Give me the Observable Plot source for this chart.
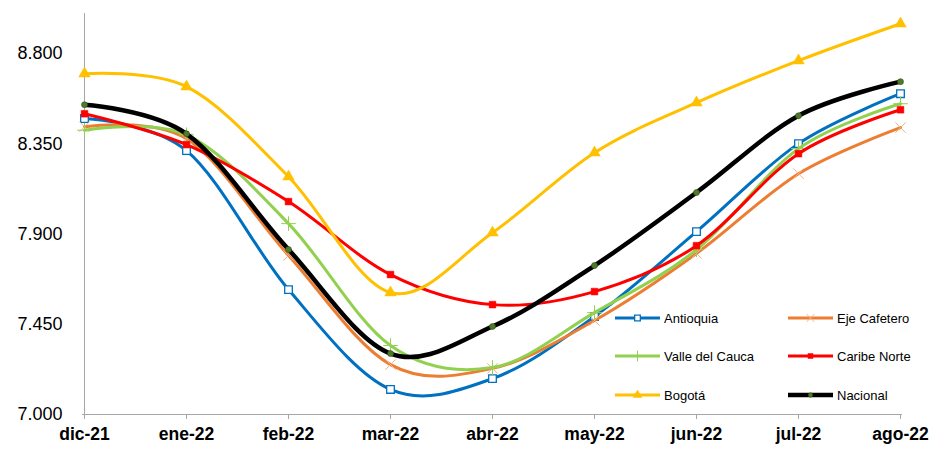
<!DOCTYPE html>
<html><head><meta charset="utf-8">
<script src="https://cdn.jsdelivr.net/npm/d3@7"></script>
<script src="https://cdn.jsdelivr.net/npm/@observablehq/plot@0.6"></script>
<style>
body{margin:0;background:#fff;font-family:"Liberation Sans",Arial,sans-serif}
#chart{position:relative;width:942px;height:455px}
</style>
</head><body><div id="chart"></div>
<script>
const months = ["dic-21","ene-22","feb-22","mar-22","abr-22","may-22","jun-22","jul-22","ago-22"];
const antioquia   = [8476, 8316, 7623, 7125, 7179, 7489, 7912, 8351, 8600];
const ejeCafetero = [8435, 8375, 7793, 7249, 7230, 7469, 7803, 8201, 8431];
const valle       = [8418, 8395, 7952, 7344, 7234, 7508, 7822, 8326, 8550];
const caribe      = [8500, 8346, 8062, 7698, 7548, 7613, 7842, 8301, 8520];
const bogota      = [8700, 8635, 8186, 7608, 7907, 8306, 8555, 8765, 8949];
const nacional    = [8545, 8400, 7823, 7304, 7439, 7743, 8107, 8490, 8660];
const yTicks = [7000, 7450, 7900, 8350, 8800];
const yDomain = [7000, 9000];

const series = [
  {name:"Antioquia", values:antioquia, color:"#0070C0", w:3, symbol:"square", fill:"#fff", stroke:"#0070C0", r:4.3, sw:1.3},
  {name:"Eje Cafetero", values:ejeCafetero, color:"#ED7D31", w:3, symbol:"times", fill:"none", stroke:"#F4B183", r:4.8, sw:1},
  {name:"Valle del Cauca", values:valle, color:"#92D050", w:3, symbol:"plus", fill:"none", stroke:"#92D050", r:4.8, sw:1},
  {name:"Caribe Norte", values:caribe, color:"#FF0000", w:3, symbol:"square", fill:"#FF0000", stroke:"#FF0000", r:3.8, sw:0.5},
  {name:"Bogotá", values:bogota, color:"#FFC000", w:3, symbol:"triangle", fill:"#FFC000", stroke:"#FFC000", r:4.3, sw:0.5},
  {name:"Nacional", values:nacional, color:"#000000", w:4.5, symbol:"circle", fill:"#4F7A28", stroke:"#2f4f18", r:3, sw:0.6}
];

const rows = series.map(s => months.map((m,i) => ({serie:s.name, month:m, value:s.values[i]})));

const loc = d3.formatLocale({decimal:",", thousands:".", grouping:[3], currency:["$",""]});
const fmt = loc.format(",d");

const marks = [
  Plot.ruleY([yDomain[0]], {stroke:"#a6a6a6", strokeWidth:1}),
  Plot.ruleX([months[0]], {stroke:"#a6a6a6", strokeWidth:1})
];
series.forEach((s, k) => {
  marks.push(Plot.line(rows[k], {x:"month", y:"value", stroke:s.color, strokeWidth:s.w, curve:"cardinal"}));
  marks.push(Plot.dot(rows[k], {x:"month", y:"value", symbol:()=>s.symbol, r:s.r, fill:s.fill, stroke:s.stroke, strokeWidth:s.sw}));
});

const chart = Plot.plot({
  width: 942,
  height: 455,
  marginLeft: 82,
  marginRight: 40,
  marginTop: 13,
  marginBottom: 41,
  style: {fontFamily:'"Liberation Sans", Arial, sans-serif', background:"#fff", overflow:"visible"},
  x: {type:"point", domain:months, padding:0, label:null, tickSize:5, tickPadding:8},
  y: {domain:yDomain, ticks:yTicks, tickFormat:fmt, tickSize:0, tickPadding:20, label:null},
  symbol: {type:"identity"},
  marks
});

const svg = d3.select(chart);
svg.selectAll('[aria-label^="x-axis"] text').attr("font-size", "17.5px").attr("font-weight", "bold").attr("fill", "#000");
svg.selectAll('[aria-label^="x-axis"] line, [aria-label^="x-axis"] path').attr("stroke", "#a6a6a6");
svg.selectAll('[aria-label^="y-axis"] text').attr("font-size", "18px").attr("fill", "#000");
svg.selectAll('[aria-label^="y-axis"] path, [aria-label^="y-axis"] line').attr("stroke", "none");

// Legend
const lg = svg.append("g").attr("font-size", "13px").attr("font-family", '"Liberation Sans", Arial, sans-serif').attr("text-anchor", "start");
const colX = [615, 788];
const rowY = [318, 356, 395];
series.forEach((s, k) => {
  const x0 = colX[k % 2], y0 = rowY[Math.floor(k / 2)];
  const g = lg.append("g").attr("transform", `translate(${x0},${y0})`);
  g.append("line").attr("x1", 0).attr("x2", 45).attr("stroke", s.color).attr("stroke-width", s.w);
  const symMap = {square:d3.symbolSquare, times:d3.symbolTimes, plus:d3.symbolPlus, triangle:d3.symbolTriangle, circle:d3.symbolCircle};
  const size = s.r * s.r * Math.PI * 0.55;
  g.append("path").attr("transform", "translate(22.5,0)").attr("d", d3.symbol(symMap[s.symbol], size)())
    .attr("fill", s.fill).attr("stroke", s.stroke).attr("stroke-width", s.sw);
  g.append("text").attr("x", 49).attr("y", 0).attr("dy", "0.35em").attr("text-anchor", "start").attr("fill", "#000").text(s.name);
});

document.getElementById("chart").appendChild(chart);
</script>
</body></html>
